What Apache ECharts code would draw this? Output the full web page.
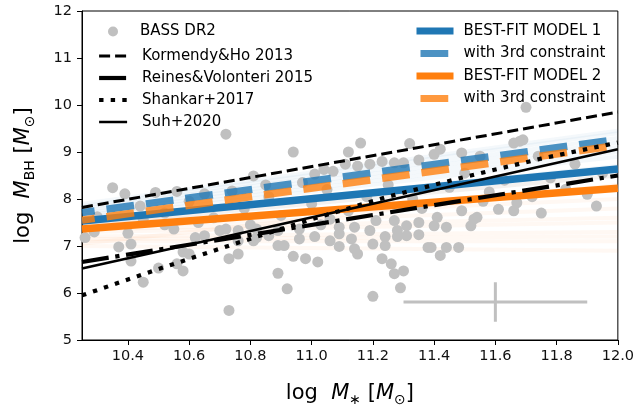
<!DOCTYPE html>
<html>
<head>
<meta charset="utf-8">
<script src="https://cdn.jsdelivr.net/npm/echarts@6/dist/echarts.min.js"></script>
<style>
html,body{margin:0;padding:0;background:#fff;}
#chart{width:637px;height:413px;}
</style>
</head>
<body>
<div id="chart"></div>
<script>
// ---------- data ----------
const xTicks = [10.4, 10.6, 10.8, 11.0, 11.2, 11.4, 11.6, 11.8, 12.0];
const yTicks = [5, 6, 7, 8, 9, 10, 11, 12];

const bassX = [10.26,10.29,10.35,10.39,10.37,10.41,10.41,10.40,10.45,10.45,10.49,10.50,10.55,10.56,10.56,10.58,10.58,10.60,10.62,10.65,
  10.65,10.70,10.72,10.73,10.73,10.76,10.72,10.76,10.76,10.74,10.81,10.81,10.82,10.82,10.89,10.92,10.94,10.98,11.02,10.89,
  10.91,10.96,11.01,11.06,11.09,11.09,11.13,11.14,11.15,11.20,11.24,11.24,11.28,11.31,11.19,11.28,10.89,10.96,11.20,11.29,
  11.27,11.30,11.23,11.26,11.39,11.35,11.38,11.42,11.44,11.48,11.31,11.40,11.44,11.52,11.54,11.61,11.66,11.67,11.21,11.27,
  11.35,11.09,11.14,11.06,10.94,11.12,11.16,11.32,11.04,11.01,11.07,11.15,11.19,11.23,11.27,11.30,11.35,10.97,11.11,11.40,
  11.70,11.68,11.69,11.66,11.49,11.42,11.55,11.74,11.41,11.49,11.53,11.86,11.83,10.30,10.44,10.52,10.60,10.68,10.78,10.86,
  10.90,11.00,11.05,11.12,11.18,11.25,11.33,11.45,11.50,11.58,11.63,11.72,11.78,11.90,11.95,10.85,11.36,11.56,11.75,11.93,
  10.52,10.63,10.80,10.86,11.03];
const bassY = [7.18,7.30,8.24,8.11,6.98,7.04,6.68,7.27,6.23,7.57,8.14,6.53,7.36,8.16,6.62,6.47,6.87,6.83,7.18,8.11,
  7.22,7.33,9.38,5.63,6.73,6.83,7.36,7.33,7.11,8.17,8.49,7.11,7.36,7.18,6.42,6.09,6.78,6.73,6.66,7.01,
  7.01,7.15,7.20,7.11,6.99,7.26,7.15,6.94,6.83,7.04,7.01,7.20,7.20,7.22,7.33,7.33,7.33,7.36,5.93,6.11,
  6.41,6.47,6.73,6.62,6.97,7.24,6.97,6.80,6.97,6.97,7.43,7.43,7.40,7.43,7.61,7.78,7.75,7.92,7.54,7.54,
  7.50,7.40,7.40,7.57,9.00,9.00,9.19,9.18,8.63,8.53,8.59,8.70,8.74,8.80,8.77,8.77,8.83,8.35,8.74,8.95,
  9.95,9.23,9.26,9.19,8.98,9.06,8.91,8.91,7.61,7.75,7.57,8.74,8.21,7.62,7.85,7.70,7.95,7.60,7.80,8.05,
  7.65,7.90,8.20,7.75,8.05,8.30,8.00,8.25,8.55,8.15,8.40,8.05,8.45,8.10,8.55,8.30,7.80,7.95,7.70,7.85,
  7.45,7.50,7.45,7.22,7.45];

// literature relations (x, y)
const khX = [10.25, 12.0], khY = [7.82, 9.85];                       // Kormendy&Ho 2013
const rvX = [10.25, 12.0], rvY = [6.66, 8.50];                       // Reines&Volonteri 2015
const shX = [10.25, 10.5, 10.75, 11.0, 11.25, 11.5, 11.75, 12.0];    // Shankar+2017
const shY = [5.95, 6.51, 7.05, 7.57, 8.05, 8.47, 8.86, 9.20];
const suhX = [10.25, 12.0], suhY = [6.52, 9.06];                     // Suh+2020

// best-fit models
const fitX = [10.25, 12.0];
const model1Y = [7.53, 8.64];
const model1cY = [7.71, 9.27];
const model2Y = [7.36, 8.23];
const model2cY = [7.55, 9.14];

// faint posterior sample lines (value at x=10.25, value at x=12)
const blueSampleL = [7.45, 7.55, 7.60, 7.70, 7.80, 7.90, 7.50, 7.65, 7.75, 7.85];
const blueSampleR = [8.50, 8.70, 8.90, 9.10, 9.30, 9.45, 8.60, 9.00, 9.20, 9.40];
const orangeSampleL = [7.00, 7.10, 7.20, 7.30, 7.40, 7.50, 7.15, 7.35, 7.05, 7.45];
const orangeSampleR = [6.90, 7.10, 7.30, 7.50, 7.80, 8.00, 7.20, 7.60, 8.30, 8.50];

// typical error bar
const errCenter = [11.6, 5.81];
const errHalfX = 0.3, errHalfY = 0.42;

// ---------- build ----------
const pairs = (xs, ys) => xs.map((x, i) => [x, ys[i]]);
const FONT = 'DejaVu Sans';
const BLUE = '#1f77b4', ORANGE = '#ff7f0e', GREY = '#c0c0c0';

const series = [];
blueSampleL.forEach((l, i) => series.push({
  type: 'line', silent: true, symbol: 'none', data: pairs(fitX, [l, blueSampleR[i]]),
  lineStyle: { color: BLUE, width: 4, opacity: 0.05 }, z: 1
}));
orangeSampleL.forEach((l, i) => series.push({
  type: 'line', silent: true, symbol: 'none', data: pairs(fitX, [l, orangeSampleR[i]]),
  lineStyle: { color: ORANGE, width: 4, opacity: 0.05 }, z: 1
}));
series.push({
  name: 'BASS DR2', type: 'scatter', data: pairs(bassX, bassY), symbolSize: 11,
  itemStyle: { color: GREY, opacity: 1 }, z: 2
});
series.push({
  type: 'line', symbol: 'none', silent: true,
  data: [[errCenter[0] - errHalfX, errCenter[1]], [errCenter[0] + errHalfX, errCenter[1]]],
  lineStyle: { color: GREY, width: 3 }, z: 2
});
series.push({
  type: 'line', symbol: 'none', silent: true,
  data: [[errCenter[0], errCenter[1] - errHalfY], [errCenter[0], errCenter[1] + errHalfY]],
  lineStyle: { color: GREY, width: 3 }, z: 2
});
series.push({ name: 'BEST-FIT MODEL 1', type: 'line', symbol: 'none', data: pairs(fitX, model1Y),
  lineStyle: { color: BLUE, width: 7.5 }, itemStyle: { color: BLUE }, z: 3 });
series.push({ name: 'M1c', type: 'line', symbol: 'none', data: pairs(fitX, model1cY),
  lineStyle: { color: BLUE, width: 7.5, opacity: 0.8, type: [27.75, 12], dashOffset: 15 }, itemStyle: { color: BLUE }, z: 3 });
series.push({ name: 'BEST-FIT MODEL 2', type: 'line', symbol: 'none', data: pairs(fitX, model2Y),
  lineStyle: { color: ORANGE, width: 7.5 }, itemStyle: { color: ORANGE }, z: 3 });
series.push({ name: 'M2c', type: 'line', symbol: 'none', data: pairs(fitX, model2cY),
  lineStyle: { color: ORANGE, width: 7.5, opacity: 0.8, type: [27.75, 12], dashOffset: 15 }, itemStyle: { color: ORANGE }, z: 3 });
series.push({ name: 'Kormendy&Ho 2013', type: 'line', symbol: 'none', data: pairs(khX, khY),
  lineStyle: { color: '#000', width: 3, type: [11, 5] }, itemStyle: { color: '#000' }, z: 4 });
series.push({ name: 'Reines&Volonteri 2015', type: 'line', symbol: 'none', data: pairs(rvX, rvY),
  lineStyle: { color: '#000', width: 4.2, type: [27, 6.7, 4.2, 6.7] }, itemStyle: { color: '#000' }, z: 4 });
series.push({ name: 'Shankar+2017', type: 'line', symbol: 'none', data: pairs(shX, shY),
  lineStyle: { color: '#000', width: 4.2, type: [4.4, 7.2] }, itemStyle: { color: '#000' }, z: 4 });
series.push({ name: 'Suh+2020', type: 'line', symbol: 'none', data: pairs(suhX, suhY),
  lineStyle: { color: '#000', width: 2.5 }, itemStyle: { color: '#000' }, z: 4 });

const legendText = { 'M1c': 'with 3rd constraint', 'M2c': 'with 3rd constraint' };
const legendCommon = {
  orient: 'vertical', selectedMode: false, padding: 0, itemGap: 7.5,
  textStyle: { fontFamily: FONT, fontSize: 15, color: '#000' },
  formatter: n => legendText[n] || n
};

const titleRich = {
  t: { fontFamily: FONT, fontSize: 21, color: '#000', lineHeight: 26 },
  i: { fontFamily: FONT, fontSize: 21, fontStyle: 'italic', color: '#000', lineHeight: 26 },
  s: { fontFamily: FONT, fontSize: 14, color: '#000', lineHeight: 16, verticalAlign: 'bottom' }
};

const option = {
  animation: false,
  backgroundColor: '#fff',
  textStyle: { fontFamily: FONT },
  grid: { left: 82, right: 16, top: 11, bottom: 73, show: true, borderColor: '#000', borderWidth: 1, backgroundColor: 'transparent' },
  legend: [
    Object.assign({}, legendCommon, {
      left: 108, top: 24, itemWidth: 10, itemHeight: 10,
      data: [{ name: 'BASS DR2', icon: 'circle' }],
      textStyle: { fontFamily: FONT, fontSize: 15, color: '#000', padding: [0, 0, 0, 17] }
    }),
    Object.assign({}, legendCommon, {
      left: 97, top: 48.5, itemWidth: 28, itemHeight: 14, itemGap: 7,
      itemStyle: { opacity: 0 },
      textStyle: { fontFamily: FONT, fontSize: 15, color: '#000', padding: [0, 0, 0, 10] },
      data: [
        { name: 'Kormendy&Ho 2013', lineStyle: { width: 3 } },
        { name: 'Reines&Volonteri 2015', lineStyle: { width: 4.2 } },
        { name: 'Shankar+2017', lineStyle: { width: 4.2 } },
        { name: 'Suh+2020', lineStyle: { width: 2.5 } }
      ]
    }),
    Object.assign({}, legendCommon, {
      left: 413, top: 23.5, itemWidth: 37, itemHeight: 14,
      itemStyle: { opacity: 0 },
      textStyle: { fontFamily: FONT, fontSize: 15, color: '#000', padding: [0, 0, 0, 5] },
      data: [
        { name: 'BEST-FIT MODEL 1', lineStyle: { width: 7 } },
        { name: 'M1c', lineStyle: { width: 7, dashOffset: -4 } },
        { name: 'BEST-FIT MODEL 2', lineStyle: { width: 7 } },
        { name: 'M2c', lineStyle: { width: 7, dashOffset: -4 } }
      ]
    })
  ],
  xAxis: {
    type: 'value', min: 10.25, max: 12.0,
    name: '{t|log  }{i|M}{s|∗}{t| [}{i|M}{s|⊙}{t|]}',
    nameLocation: 'middle', nameGap: 41,
    nameTextStyle: { rich: titleRich },
    axisLine: { show: true, onZero: false, lineStyle: { color: '#000', width: 1 } },
    axisTick: { show: true, length: 5, customValues: xTicks, lineStyle: { color: '#000', width: 1 } },
    axisLabel: { customValues: xTicks, margin: 9, fontFamily: FONT, fontSize: 14.5, color: '#111',
      formatter: v => Number(v).toFixed(1) },
    splitLine: { show: false }
  },
  yAxis: {
    type: 'value', min: 5, max: 12, interval: 1,
    name: '{t|log  }{i|M}{s|BH}{t| [}{i|M}{s|⊙}{t|]}',
    nameLocation: 'middle', nameGap: 45, nameRotate: 90,
    nameTextStyle: { rich: titleRich },
    axisLine: { show: true, onZero: false, lineStyle: { color: '#000', width: 1 } },
    axisTick: { show: true, length: 5, lineStyle: { color: '#000', width: 1 } },
    axisLabel: { customValues: yTicks, margin: 10, fontFamily: FONT, fontSize: 14.5, color: '#111' },
    splitLine: { show: false }
  },
  series: series
};

const chart = echarts.init(document.getElementById('chart'), null, { renderer: 'canvas' });
chart.setOption(option);
</script>
</body>
</html>
